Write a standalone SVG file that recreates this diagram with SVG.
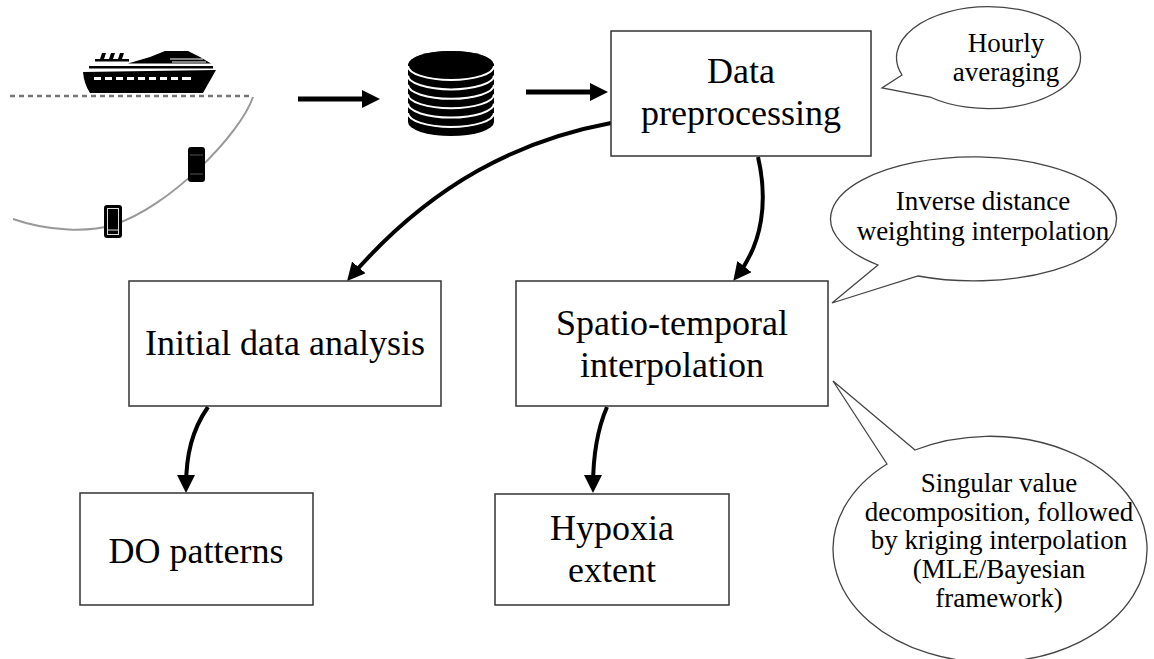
<svg xmlns="http://www.w3.org/2000/svg" width="1154" height="659" viewBox="0 0 1154 659">
  <style>
    .box { fill: #fff; stroke: #333; stroke-width: 1.5; }
    .lbl { font-family: "Liberation Serif", "Times New Roman", serif; font-size: 36px; fill: #000; text-anchor: middle; }
    .note { font-family: "Liberation Serif", "Times New Roman", serif; font-size: 27px; fill: #000; text-anchor: middle; }
    .bubble { fill: #fff; stroke: #444; stroke-width: 1.3; stroke-linejoin: miter; }
    .flow { fill: none; stroke: #000; stroke-width: 4; marker-end: url(#head); }
    .flow-bold { fill: none; stroke: #000; stroke-width: 5; marker-end: url(#head); }
  </style>
  <defs>
    <marker id="head" markerUnits="userSpaceOnUse" markerWidth="20" markerHeight="20" refX="12" refY="9" orient="auto">
      <path d="M0,0 L18,9 L0,18 Z" fill="#000"/>
    </marker>
  </defs>

  <rect width="1154" height="659" fill="#fff"/>

  <!-- survey vessel with towed sensor cable -->
  <g id="vessel">
    <line x1="10" y1="96" x2="253" y2="96" stroke="#777" stroke-width="2.5" stroke-dasharray="5,4"/>
    <path d="M253,97 C240,135 168,208 113,225 C90,232 50,232 13,219" fill="none" stroke="#999" stroke-width="2"/>
    <!-- hull -->
    <path d="M83,72 L216,70 L203,93 L90,93 Q84,84 83,72 Z" fill="#000"/>
    <g fill="#fff">
      <rect x="94" y="77" width="7" height="3"/>
      <rect x="105" y="77" width="7" height="3"/>
      <rect x="116" y="77" width="7" height="3"/>
      <rect x="127" y="77" width="7" height="3"/>
      <rect x="138" y="77" width="7" height="3"/>
      <rect x="149" y="77" width="7" height="3"/>
      <rect x="160" y="77" width="7" height="3"/>
      <rect x="171" y="77" width="7" height="3"/>
      <rect x="182" y="77" width="9" height="3"/>
    </g>
    <!-- decks and superstructure -->
    <rect x="89" y="66" width="124" height="2.5" fill="#000"/>
    <path d="M96,63.5 L128,63.5 L150,57 L165,51 L188,51 L200,57 L211,63.5 Z" fill="#000"/>
    <rect x="95" y="59" width="34" height="2.5" fill="#000"/>
    <path d="M100,59 L102,53 L106,53 L104,59 Z M109,59 L111,53 L115,53 L113,59 Z M118,59 L120,53 L124,53 L122,59 Z" fill="#000"/>
    <line x1="170" y1="59" x2="203" y2="59" stroke="#fff" stroke-width="1"/>
    <line x1="172" y1="62" x2="206" y2="62" stroke="#fff" stroke-width="1"/>
  </g>

  <g id="sensor-upper">
    <rect x="188" y="147" width="17" height="35" rx="3" fill="#000"/>
    <line x1="190" y1="155" x2="203" y2="155" stroke="#555" stroke-width="1"/>
    <line x1="190" y1="174" x2="203" y2="174" stroke="#555" stroke-width="1"/>
  </g>
  <g id="sensor-lower">
    <rect x="104" y="205" width="18" height="33" rx="3" fill="#000"/>
    <rect x="107.5" y="208.5" width="11" height="26" fill="none" stroke="#ddd" stroke-width="1"/>
    <line x1="107.5" y1="230" x2="118.5" y2="230" stroke="#ddd" stroke-width="1"/>
  </g>

  <!-- data store -->
  <g id="database">
    <path d="M408,65 L408,122 A43,14 0 0 0 494,122 L494,65 A43,14 0 0 0 408,65 Z" fill="#000"/>
    <ellipse cx="451" cy="65" rx="43" ry="14" fill="#000"/>
    <g fill="none" stroke="#fff" stroke-width="2">
      <path d="M408,66 A43,14 0 0 0 494,66"/>
      <path d="M408,75.4 A43,14 0 0 0 494,75.4"/>
      <path d="M408,84.8 A43,14 0 0 0 494,84.8"/>
      <path d="M408,94.2 A43,14 0 0 0 494,94.2"/>
      <path d="M408,103.6 A43,14 0 0 0 494,103.6"/>
      <path d="M408,113 A43,14 0 0 0 494,113"/>
    </g>
  </g>

  <g id="connectors">
    <path class="flow-bold" d="M298,99 L374,99"/>
    <path class="flow-bold" d="M526,92 L602,92"/>
    <path class="flow" d="M611,123 C520,140 432,183 351,276.5"/>
    <path class="flow" d="M758,157 C768,200 763,243 737,276"/>
    <path class="flow" d="M208,407 C192,430 186,455 186,487"/>
    <path class="flow" d="M607,407 C597,430 593,455 593,487"/>
  </g>

  <g id="data-preprocessing">
    <rect class="box" x="611" y="31" width="260" height="125"/>
    <text class="lbl" x="741" y="83">Data</text>
    <text class="lbl" x="741" y="125">preprocessing</text>
  </g>

  <g id="initial-analysis">
    <rect class="box" x="129" y="281" width="312" height="125"/>
    <text class="lbl" x="285" y="355">Initial data analysis</text>
  </g>

  <g id="interpolation">
    <rect class="box" x="516" y="281" width="312" height="125"/>
    <text class="lbl" x="672" y="335">Spatio-temporal</text>
    <text class="lbl" x="672" y="377">interpolation</text>
  </g>

  <g id="do-patterns">
    <rect class="box" x="80" y="493" width="233" height="112"/>
    <text class="lbl" x="196" y="563">DO patterns</text>
  </g>

  <g id="hypoxia-extent">
    <rect class="box" x="495" y="494" width="234" height="111"/>
    <text class="lbl" x="612" y="540">Hypoxia</text>
    <text class="lbl" x="612" y="582">extent</text>
  </g>

  <g id="note-averaging">
    <path class="bubble" d="M902,75 L882,88 L930,97 A92,51 0 1 0 902,75 Z"/>
    <text class="note" x="1006" y="52">Hourly</text>
    <text class="note" x="1006" y="81">averaging</text>
  </g>

  <g id="note-idw">
    <path class="bubble" d="M878,265 L832,303 L918,276 A143,62 0 1 0 878,265 Z"/>
    <text class="note" x="983" y="210">Inverse distance</text>
    <text class="note" x="983" y="240">weighting interpolation</text>
  </g>

  <g id="note-svd">
    <path class="bubble" d="M887,464 L833,381 L915,450 A157,113 0 1 1 887,464 Z"/>
    <text class="note" x="999" y="492">Singular value</text>
    <text class="note" x="999" y="521">decomposition, followed</text>
    <text class="note" x="999" y="549">by kriging interpolation</text>
    <text class="note" x="999" y="578">(MLE/Bayesian</text>
    <text class="note" x="999" y="607">framework)</text>
  </g>
</svg>
